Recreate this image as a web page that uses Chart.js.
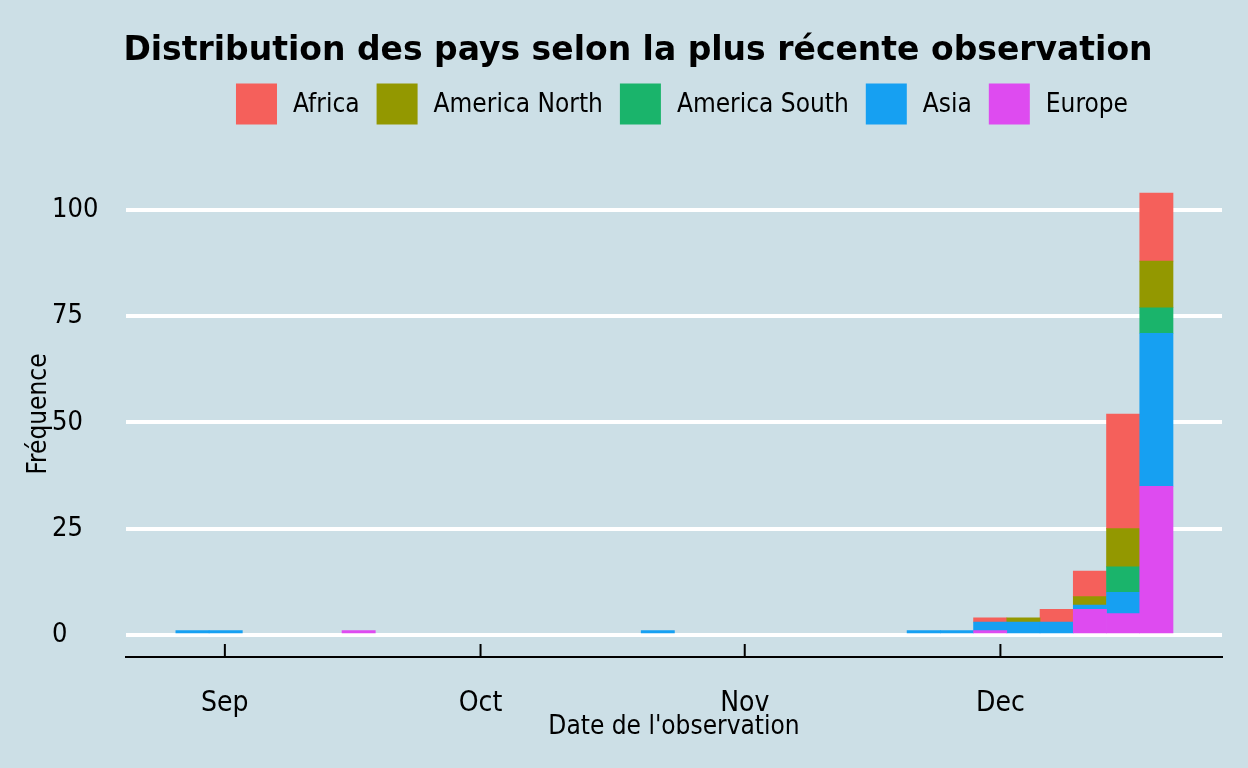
<!DOCTYPE html>
<html lang="fr">
<head>
<meta charset="utf-8">
<title>Distribution des pays selon la plus récente observation</title>
<script src="https://cdn.jsdelivr.net/npm/chart.js@4.4.1/dist/chart.umd.min.js"></script>
<style>
  html, body { margin: 0; padding: 0; background: #CCDFE6; }
  #wrap { width: 1248px; height: 768px; position: relative; }
</style>
</head>
<body>
<div id="wrap"><canvas id="histo"></canvas></div>
<script>
// Centres des classes (jours depuis le 1er septembre), 30 classes
const binCenters = [-3.8, 0.1, 4.0, 7.9, 11.8, 15.7, 19.6, 23.5, 27.4, 31.3,
                    35.2, 39.1, 43.0, 46.9, 50.8, 54.7, 58.6, 62.5, 66.4, 70.3,
                    74.2, 78.1, 82.0, 85.9, 89.8, 93.7, 97.6, 101.5, 105.4, 109.3];

// Fréquences par continent
const africa       = [0,0,0,0,0,0,0,0,0,0, 0,0,0,0,0,0,0,0,0,0, 0,0,0,0,1,0,3,6,27,16];
const americaNorth = [0,0,0,0,0,0,0,0,0,0, 0,0,0,0,0,0,0,0,0,0, 0,0,0,0,0,1,0,2,9,11];
const americaSouth = [0,0,0,0,0,0,0,0,0,0, 0,0,0,0,0,0,0,0,0,0, 0,0,0,0,0,0,0,0,6,6];
const asia         = [1,1,0,0,0,0,0,0,0,0, 0,0,0,0,1,0,0,0,0,0, 0,0,1,1,2,3,3,1,5,36];
const europe       = [0,0,0,0,0,1,0,0,0,0, 0,0,0,0,0,0,0,0,0,0, 0,0,0,0,1,0,0,6,5,35];

// Graduations
const monthTicks  = [0, 30, 61, 91];
const monthLabels = ['Sep', 'Oct', 'Nov', 'Dec'];
const yTicks      = [0, 25, 50, 75, 100];

const FONT = '"DejaVu Sans Condensed", "DejaVu Sans", sans-serif';
const TITLE_FONT = '"DejaVu Sans", sans-serif';

const series = [
    { label: 'Europe',        data: europe,       color: '#DE4BF0' },
    { label: 'Asia',          data: asia,         color: '#16A0F2' },
    { label: 'America South', data: americaSouth, color: '#1AB46B' },
    { label: 'America North', data: americaNorth, color: '#939800' },
    { label: 'Africa',        data: africa,       color: '#F5605B' }
];

// Titre, légende, titre de l'axe y et petites graduations intérieures
const decorPlugin = {
    id: 'decor',
    beforeDraw(chart) {
        const ctx = chart.ctx;
        ctx.save();
        ctx.fillStyle = '#CCDFE6';
        ctx.fillRect(0, 0, chart.width, chart.height);
        ctx.restore();
    },
    afterDraw(chart) {
        const ctx = chart.ctx;
        const area = chart.chartArea;
        ctx.save();

        // titre
        ctx.fillStyle = '#000';
        ctx.font = 'bold 33px ' + TITLE_FONT;
        ctx.textAlign = 'center';
        ctx.textBaseline = 'middle';
        ctx.fillText('Distribution des pays selon la plus récente observation', 638, 51);

        // titre de l'axe y (il chevauche le "50", comme l'original)
        ctx.save();
        ctx.font = '26px ' + FONT;
        ctx.translate(39, (area.top + area.bottom) / 2);
        ctx.rotate(-Math.PI / 2);
        ctx.fillText('Fréquence', 0, 0);
        ctx.restore();

        // légende (ordre inverse de l'empilement)
        const items = chart.data.datasets.slice().reverse();
        ctx.font = '26px ' + FONT;
        const box = 41, gapIn = 16, gapOut = 17;
        let total = 0;
        items.forEach((d, i) => {
            total += box + gapIn + ctx.measureText(d.label).width;
            if (i < items.length - 1) total += gapOut;
        });
        let x = 682 - total / 2;
        const yMid = 104;
        ctx.textAlign = 'left';
        items.forEach(d => {
            ctx.fillStyle = d.backgroundColor;
            ctx.fillRect(x, yMid - box / 2, box, box);
            x += box + gapIn;
            ctx.fillStyle = '#000';
            ctx.fillText(d.label, x, yMid + 1);
            x += ctx.measureText(d.label).width + gapOut;
        });

        // graduations vers l'intérieur sur l'axe x
        const xs = chart.scales.x;
        ctx.strokeStyle = '#000';
        ctx.lineWidth = 2;
        xs.ticks.forEach(t => {
            const px = xs.getPixelForValue(t.value);
            ctx.beginPath();
            ctx.moveTo(px, area.bottom - 13);
            ctx.lineTo(px, area.bottom);
            ctx.stroke();
        });
        ctx.restore();
    }
};

new Chart(document.getElementById('histo'), {
    type: 'bar',
    data: {
        labels: binCenters,
        datasets: series.map(s => ({
            label: s.label,
            data: s.data.map(v => (v === 0 ? null : v)),
            backgroundColor: s.color,
            borderWidth: 0,
            barPercentage: 1,
            categoryPercentage: 1
        }))
    },
    options: {
        responsive: true,
        maintainAspectRatio: false,
        animation: false,
        layout: { padding: { top: 171, right: 26, left: 52, bottom: 0 } },
        plugins: {
            legend: { display: false },
            title: { display: false },
            tooltip: { enabled: false }
        },
        scales: {
            x: {
                type: 'linear',
                stacked: true,
                offset: false,
                min: -11.6,
                max: 117.0,
                afterBuildTicks: scale => { scale.ticks = monthTicks.map(v => ({ value: v })); },
                afterFit: scale => { scale.height = 111; },
                ticks: {
                    color: '#000',
                    font: { family: FONT, size: 28 },
                    padding: 30,
                    maxRotation: 0,
                    autoSkip: false,
                    callback: value => monthLabels[monthTicks.indexOf(value)]
                },
                grid: { display: false, drawTicks: false },
                border: { display: true, color: '#000', width: 2 },
                title: {
                    display: true,
                    text: "Date de l'observation",
                    color: '#000',
                    font: { family: FONT, size: 26 },
                    padding: { top: 0, bottom: 25 }
                }
            },
            y: {
                stacked: true,
                min: -5.2,
                max: 109.2,
                afterBuildTicks: scale => { scale.ticks = yTicks.map(v => ({ value: v })); },
                afterFit: scale => { scale.width = 74; },
                ticks: {
                    color: '#000',
                    font: { family: FONT, size: 27 },
                    crossAlign: 'far',
                    padding: 27
                },
                grid: { color: '#FFFFFF', lineWidth: 4, drawTicks: false },
                border: { display: false }
            }
        }
    },
    plugins: [decorPlugin]
});
</script>
</body>
</html>
